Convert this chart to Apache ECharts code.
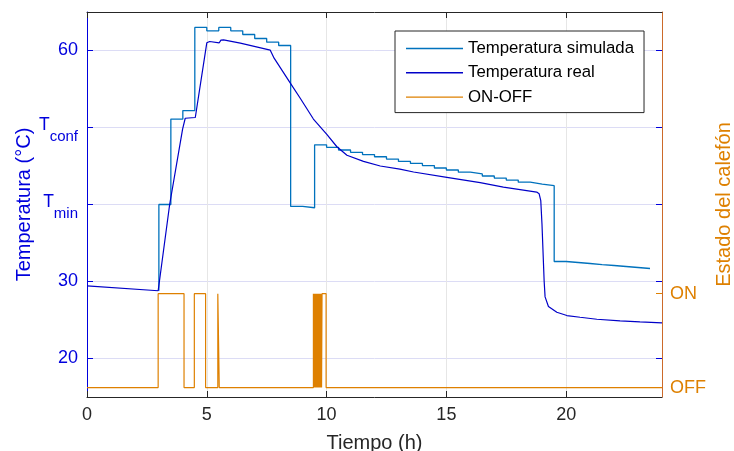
<!DOCTYPE html>
<html><head><meta charset="utf-8">
<script src="https://cdn.jsdelivr.net/npm/echarts@6/dist/echarts.min.js"></script>
<style>html,body{margin:0;padding:0;background:#fff}#c{width:734px;height:451px}</style>
</head><body><div id="c"></div>
<script>
const realTime = [0, 2.97, 3.45, 3.99, 4.1, 4.52, 5.0, 5.12, 5.52, 5.59, 5.7, 6.4, 7.65, 7.81, 8.48, 8.9, 9.45, 10.01, 10.43, 10.85, 11.54, 12.24, 13.06, 13.63, 15.02, 16.41, 17.38, 18.77, 18.87, 18.94, 18.99, 19.08, 19.12, 19.26, 19.61, 20.03, 20.58, 21.28, 22.25, 23.08, 24];
const realTemp = [29.43, 28.8, 40.0, 49.8, 51.2, 51.3, 61.0, 61.17, 61.0, 61.34, 61.38, 60.95, 60.04, 59.0, 55.8, 53.8, 51.1, 49.1, 47.5, 46.4, 45.6, 45.0, 44.6, 44.22, 43.53, 42.83, 42.26, 41.61, 41.4, 40.5, 37.5, 30.1, 28.0, 26.75, 26.0, 25.58, 25.36, 25.1, 24.89, 24.76, 24.63];
const simTime = [3, 3, 3.5, 4, 4.5, 5, 5.5, 6, 6.5, 7, 7.5, 8, 8.5, 9, 9.5, 10, 10.5, 11, 11.5, 12, 12.5, 13, 13.5, 14, 14.5, 15, 15.5, 16, 16.5, 17, 17.5, 18, 18.5, 19, 19.5, 20, 20.5, 21, 21.5, 22, 22.5, 23, 23.5];
const simTemp = [28.8, 40, 51.1, 52.2, 63.0, 62.55, 63.0, 62.55, 62.08, 61.56, 61.08, 60.65, 39.75, 39.58, 47.75, 47.42, 47.08, 46.78, 46.48, 46.2, 45.9, 45.6, 45.34, 45.05, 44.74, 44.48, 44.2, 43.97, 43.7, 43.43, 43.17, 42.9, 42.65, 42.44, 32.6, 32.47, 32.34, 32.2, 32.08, 31.95, 31.82, 31.69, 31.69];
const onOffTime = [0, 2.97, 4.05, 4.48, 4.95, 5.46, 5.52, 9.45, 9.47, 9.49, 9.51, 9.53, 9.55, 9.57, 9.59, 9.61, 9.63, 9.65, 9.67, 9.69, 9.71, 9.73, 9.75, 9.77, 9.79, 9.81, 9.98, 24];
const onOffState = [0, 1, 0, 1, 0, 1, 0, 1, 0, 1, 0, 1, 0, 1, 0, 1, 0, 1, 0, 1, 0, 1, 0, 1, 0, 1, 0, 0];
const xTickValues = [0, 5, 10, 15, 20];
const yTickValues = [20, 30, 40, 50, 60];
const yTickLabels = ['20', '30', '{t|T}{s|min}', '{t|T}{s|conf}', '60'];
const stateTickValues = [0, 1];
const stateTickLabels = ['OFF', 'ON'];

function stairs(t, v) {
  const out = [];
  for (let i = 0; i < t.length; i++) {
    if (i > 0) out.push([t[i], v[i - 1]]);
    out.push([t[i], v[i]]);
  }
  return out;
}

const BLUE = '#0000DD', REAL = '#0000C8', SIM = '#0072BD', ORANGE = '#DE8000', ORANGE_AX = '#CC6A2A', GRAY = '#262626';
const FONT = 'Liberation Sans';

const chart = echarts.init(document.getElementById('c'), null, {renderer: 'canvas'});
chart.setOption({
  animation: false,
  textStyle: {fontFamily: FONT},
  grid: {left: 87, right: 72, top: 12, bottom: 54, containLabel: false, outerBoundsMode: 'none'},
  legend: {
    orient: 'vertical', left: 395, top: 31,
    padding: [9, 10, 7, 11], itemGap: 7.3, itemWidth: 57, itemHeight: 1.4, icon: 'rect',
    borderColor: GRAY, borderWidth: 1, backgroundColor: '#fff',
    textStyle: {fontSize: 16.8, lineHeight: 14, color: '#000', fontFamily: FONT},
    data: ['Temperatura simulada', 'Temperatura real', 'ON-OFF']
  },
  xAxis: [
    {
      type: 'value', position: 'bottom', min: 0, max: 24,
      axisLine: {onZero: false, lineStyle: {color: GRAY, width: 1}},
      axisTick: {inside: true, length: 6, lineStyle: {color: GRAY}, customValues: xTickValues},
      axisLabel: {margin: 9.5, fontSize: 18, color: GRAY, fontFamily: FONT, customValues: xTickValues},
      splitLine: {show: true, lineStyle: {color: '#E6E6E6', width: 1}},
      name: 'Tiempo (h)', nameLocation: 'middle', nameGap: 36, nameMoveOverlap: false,
      nameTextStyle: {fontSize: 20, color: GRAY, fontFamily: FONT}
    },
    {
      type: 'value', position: 'top', min: 0, max: 24,
      axisLine: {onZero: false, lineStyle: {color: GRAY, width: 1}},
      axisTick: {inside: true, length: 6, lineStyle: {color: GRAY}, customValues: xTickValues},
      axisLabel: {show: false}, splitLine: {show: false}
    }
  ],
  yAxis: [
    {
      type: 'value', position: 'left', min: 15, max: 65,
      axisLine: {show: true, onZero: false, lineStyle: {color: BLUE, width: 1}},
      axisTick: {show: true, inside: true, length: 6, lineStyle: {color: BLUE}, customValues: yTickValues},
      axisLabel: {
        margin: 9, fontSize: 18, color: BLUE, fontFamily: FONT,
        customValues: yTickValues,
        formatter: v => yTickLabels[yTickValues.indexOf(v)] || '',
        rich: {
          t: {fontSize: 17.5, color: BLUE, fontFamily: FONT, lineHeight: 23.1, verticalAlign: 'top'},
          s: {fontSize: 15, color: BLUE, fontFamily: FONT, lineHeight: 8, padding: [13.3, 0, 0, 0], verticalAlign: 'top'}
        }
      },
      splitLine: {show: true, lineStyle: {color: '#DCDCF5', width: 1}},
      name: 'Temperatura (°C)', nameLocation: 'middle', nameGap: 53, nameMoveOverlap: false,
      nameTextStyle: {fontSize: 20, color: BLUE, fontFamily: FONT}
    },
    {
      type: 'value', position: 'right', offset: 0, min: 15, max: 65,
      axisLine: {show: true, onZero: false, lineStyle: {color: BLUE, width: 1, opacity: 0}},
      axisTick: {show: true, inside: true, length: 6, lineStyle: {color: BLUE}, customValues: yTickValues},
      axisLabel: {show: false}, splitLine: {show: false}
    },
    {
      type: 'value', position: 'right', offset: 0, min: -0.1, max: 4,
      axisLine: {show: true, onZero: false, lineStyle: {color: ORANGE_AX, width: 1}},
      axisTick: {show: true, inside: true, length: 6, lineStyle: {color: ORANGE}, customValues: stateTickValues},
      axisLabel: {margin: 8, fontSize: 18, color: ORANGE, fontFamily: FONT, customValues: stateTickValues,
        formatter: v => stateTickLabels[stateTickValues.indexOf(v)] || ''},
      splitLine: {show: false},
      name: 'Estado del calefón', nameLocation: 'middle', nameGap: 52, nameMoveOverlap: false,
      nameTextStyle: {fontSize: 20, color: ORANGE, fontFamily: FONT}
    }
  ],
  series: [
    {name: 'Temperatura simulada', type: 'line', xAxisIndex: 0, yAxisIndex: 0, data: stairs(simTime, simTemp),
      symbol: 'none', lineStyle: {color: SIM, width: 1.3}, itemStyle: {color: SIM}},
    {name: 'Temperatura real', type: 'line', xAxisIndex: 0, yAxisIndex: 0, data: realTime.map((t, i) => [t, realTemp[i]]),
      symbol: 'none', lineStyle: {color: REAL, width: 1.2}, itemStyle: {color: REAL}},
    {name: 'ON-OFF', type: 'line', xAxisIndex: 0, yAxisIndex: 2, data: stairs(onOffTime, onOffState),
      symbol: 'none', lineStyle: {color: ORANGE, width: 1.2}, itemStyle: {color: ORANGE}}
  ]
});
</script></body></html>
